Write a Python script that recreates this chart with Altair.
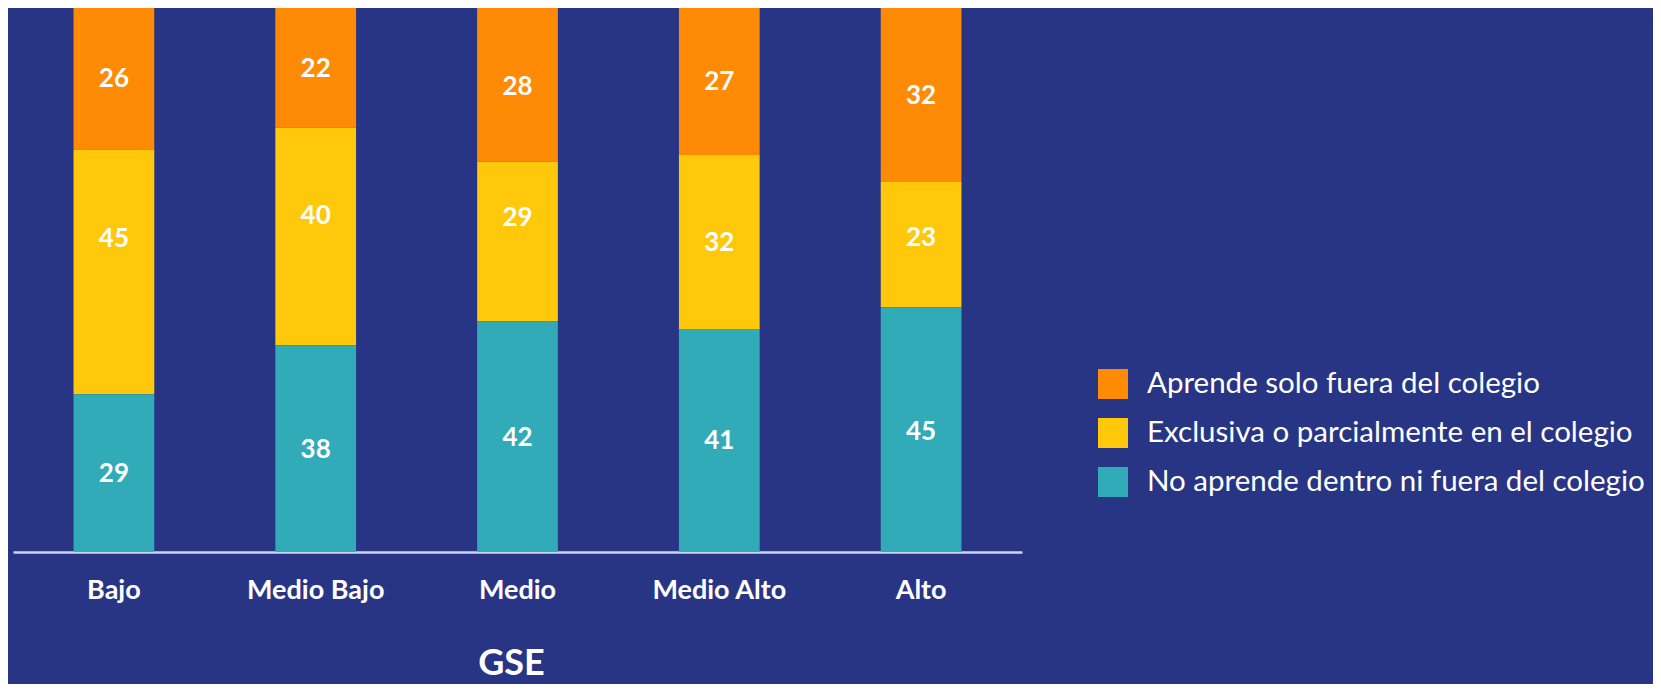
import altair as alt
import pandas as pd

categorias = ["Bajo", "Medio Bajo", "Medio", "Medio Alto", "Alto"]
series = [
    "Aprende solo fuera del colegio",
    "Exclusiva o parcialmente en el colegio",
    "No aprende dentro ni fuera del colegio",
]
aprende_fuera = [26, 22, 28, 27, 32]
exclusiva = [45, 40, 29, 32, 23]
no_aprende = [29, 38, 42, 41, 45]
colores = ["#FF8A06", "#FFC80B", "#31ABB8"]

PLOT_W = 1009
PLOT_H = 544

# small vertical nudges (px, positive = up) of the value labels, as placed in the original
ajuste_etiquetas = {
    series[0]: [0, -1, -2, -1, -1],
    series[1]: [33, 20, 24, -1, 7],
    series[2]: [-1, -1, -1, -1, -2],
}

valores = {series[0]: aprende_fuera, series[1]: exclusiva, series[2]: no_aprende}
orden = {series[2]: 0, series[1]: 1, series[0]: 2}
rows = []
for s in series:
    for i, (c, v) in enumerate(zip(categorias, valores[s])):
        rows.append({"gse": c, "serie": s, "valor": v, "orden": orden[s],
                     "dy": ajuste_etiquetas[s][i]})
df = pd.DataFrame(rows)

FONT = "Lato"
BG = "#283584"

base = alt.Chart(df).transform_stack(
    stack="valor",
    groupby=["gse"],
    sort=[alt.SortField("orden", order="ascending")],
    as_=["y0", "y1"],
    offset="normalize",
).transform_calculate(
    ymid=f"(datum.y0 + datum.y1) / 2 + datum.dy / {PLOT_H}"
)

x = alt.X(
    "gse:N",
    sort=categorias,
    scale=alt.Scale(paddingInner=0.6, paddingOuter=0.3),
    axis=alt.Axis(
        title="GSE",
        labelAngle=0,
        labelFont=FONT,
        labelFontSize=27,
        labelFontWeight="bold",
        labelColor="white",
        labelPadding=38,
        labelBaseline="middle",
        ticks=False,
        tickSize=0,
        domainColor="#CDD3F0",
        domainWidth=2.5,
        titleFont=FONT,
        titleFontSize=36,
        titleFontWeight="bold",
        titleColor="white",
        titleX=498,
        titleY=122,
        titleBaseline="alphabetic",
        titleAlign="center",
    ),
)

bars = base.mark_bar().encode(
    x=x,
    y=alt.Y("y0:Q", scale=alt.Scale(domain=[0, 1]), axis=None),
    y2="y1:Q",
    color=alt.Color(
        "serie:N",
        scale=alt.Scale(domain=series, range=colores),
        legend=alt.Legend(
            title=None,
            orient="none",
            legendX=1085,
            legendY=361,
            padding=0,
            symbolType="square",
            symbolSize=900,
            symbolStrokeWidth=0,
            symbolOpacity=1,
            labelFont=FONT,
            labelFontSize=29.5,
            labelColor="white",
            labelOffset=19,
            rowPadding=19,
            labelLimit=700,
        ),
    ),
)

labels = base.mark_text(
    font=FONT, fontSize=26, fontWeight="bold", color="white", baseline="middle"
).encode(
    x=alt.X("gse:N", sort=categorias),
    y=alt.Y("ymid:Q"),
    text="valor:Q",
)

chart = (
    alt.layer(bars, labels)
    .properties(
        width=PLOT_W,
        height=PLOT_H,
        background=BG,
        padding={"left": 5, "top": 0, "right": 631, "bottom": 132},
        autosize=alt.AutoSizeParams(type="none"),
    )
    .configure_view(stroke=None)
)

chart.save("out.html", embed_options={"renderer": "svg", "actions": False})
